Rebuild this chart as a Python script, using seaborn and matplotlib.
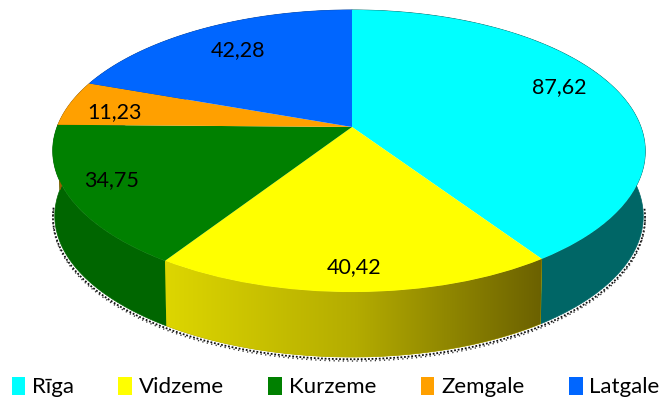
import numpy as np
import matplotlib
matplotlib.use('Agg')
import matplotlib.pyplot as plt
from matplotlib.transforms import Transform
from matplotlib.patches import Polygon, Patch
from matplotlib.colors import LinearSegmentedColormap
import seaborn as sns

regions = ['Rīga', 'Vidzeme', 'Kurzeme', 'Zemgale', 'Latgale']
values = [87.62, 40.42, 34.75, 11.23, 42.28]
top_colors = ['#00FFFF', '#FFFF00', '#008000', '#FFA000', '#0066FF']
side_colors = ['#006666', '#B0A800', '#006600', '#996000', '#003D99']
label_pos = [(559, 87), (354, 267), (112, 180), (115, 112), (238, 50)]

# perspective of the pie disc, in pixels
CX, CY = 352, 127
TILT = 0.17
DEPTH = 65


def project(x, y, shrink=1.0, drop=0):
    w = 1 + TILT * y
    px = CX + shrink * x * (292 - 3 * x) / w
    py = CY - 137 * y / w + drop
    return px, py


class DiscTransform(Transform):
    input_dims = 2
    output_dims = 2

    def transform_non_affine(self, values):
        px, py = project(values[:, 0], values[:, 1])
        return np.column_stack([px, py])


sns.set_theme(style='white')
plt.rcParams['font.family'] = ['Lato', 'DejaVu Sans']

fig = plt.figure(figsize=(6.71, 4.01), dpi=100)
ax = fig.add_axes([0, 0, 1, 1])

wedges, _ = ax.pie(values, colors=sns.color_palette(top_colors), startangle=90,
                   counterclock=False, radius=1, wedgeprops={'linewidth': 0})
disc = DiscTransform() + ax.transData
for w in wedges:
    w.set_transform(disc)
    w.set_zorder(5)

ax.set_aspect('auto')
ax.axis('off')

# side wall of each slice
shade = LinearSegmentedColormap.from_list('shade', ['#DDD600', '#B4AC00', '#6A6000'])
for w, col in zip(wedges, side_colors):
    t = np.radians(np.linspace(w.theta1, w.theta2, 120))
    x1, y1 = project(np.cos(t), np.sin(t))
    x2, y2 = project(np.cos(t), np.sin(t), shrink=0.993, drop=DEPTH)
    pts = np.column_stack([np.r_[x1, x2[::-1]], np.r_[y1, y2[::-1]]])
    poly = Polygon(pts, closed=True, fc=col, ec=col, lw=0.5, zorder=2)
    ax.add_patch(poly)
    if col == side_colors[1]:
        img = ax.imshow(np.linspace(0, 1, 256).reshape(1, -1), cmap=shade, aspect='auto',
                        extent=(165, 545, 360, 255), zorder=2.5)
        img.set_clip_path(poly)
ax.set_xlim(0, 671)
ax.set_ylim(401, 0)

# dithered shadow under the rim
t = np.radians(np.linspace(186, 354, 400))
sx, sy = project(np.cos(t) * 1.006, np.sin(t) * 1.006, shrink=0.993, drop=DEPTH + 1)
ax.plot(sx, sy, color='#111111', lw=1.3, ls=(0, (1.0, 1.0)), zorder=1)
ax.plot(sx, sy + 1.8, color='#333333', lw=1.0, ls=(0, (0.9, 2.4)), zorder=1)

for v, (lx, ly) in zip(values, label_pos):
    ax.text(lx, ly, f'{v:.2f}'.replace('.', ','), ha='center', va='center',
            fontsize=15.5, color='black', zorder=6)

handles = [Patch(fc=c, ec='none') for c in top_colors]
fig.legend(handles, regions, ncol=5, loc='center', bbox_to_anchor=(0.5, 0.035),
           frameon=False, fontsize=16, handlelength=0.62, handleheight=0.9,
           handletextpad=0.3, columnspacing=2.0, borderpad=0, labelcolor='black')

fig.savefig('out.png', dpi=100)
